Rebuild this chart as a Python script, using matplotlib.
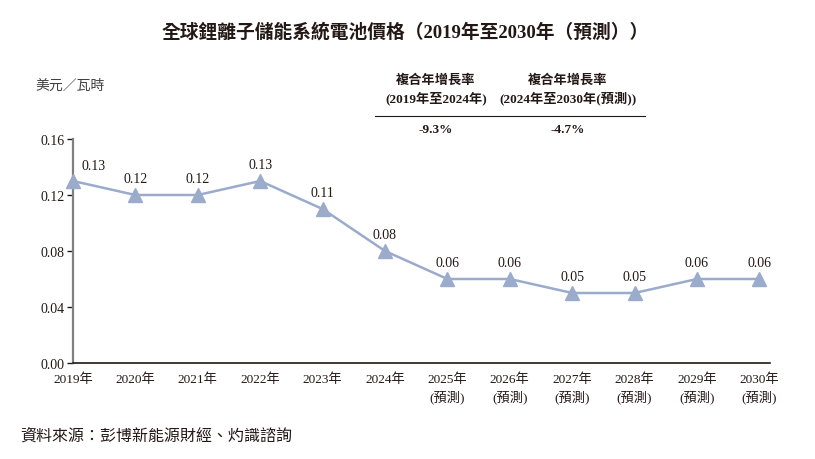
import matplotlib
matplotlib.use("Agg")
import matplotlib.pyplot as plt

plt.rcParams['font.family'] = ['Liberation Serif', 'Noto Sans CJK TC', 'DejaVu Sans']

years = ["2019年", "2020年", "2021年", "2022年", "2023年", "2024年",
         "2025年", "2026年", "2027年", "2028年", "2029年", "2030年"]
forecast = [False]*6 + [True]*6
prices = [0.13, 0.12, 0.12, 0.13, 0.11, 0.08, 0.06, 0.06, 0.05, 0.05, 0.06, 0.06]
yticks = [0.00, 0.04, 0.08, 0.12, 0.16]
cagr_headers = ["複合年增長率\n(2019年至2024年)", "複合年增長率\n(2024年至2030年(預測))"]
cagr_values = ["-9.3%", "-4.7%"]

fig = plt.figure(figsize=(8.15, 4.6), dpi=100)
ax = fig.add_axes([73/815, 1-364/460, (770-73)/815, (364-140)/460])

x = list(range(len(prices)))
line_color = "#9aabcb"
ax.plot(x, prices, color=line_color, lw=1.8, marker="^", ms=10,
        markerfacecolor=line_color, markeredgecolor=line_color, zorder=3, clip_on=False)

for i, v in enumerate(prices):
    if i == 0:
        ax.annotate(f"{v:.2f}", (i, v), xytext=(15, 11), textcoords="offset points",
                    ha="center", va="center", fontsize=10, color="#231815")
    else:
        ax.annotate(f"{v:.2f}", (i, v), xytext=(0, 12), textcoords="offset points",
                    ha="center", va="center", fontsize=10, color="#231815")

ax.set_xlim(0, 11.17)
ax.set_ylim(0, 0.16)
ax.set_yticks(yticks)
ax.set_yticklabels([f"{t:.2f}" for t in yticks], fontsize=10, color="#231815")
ax.set_xticks(x)
ax.set_xticklabels([y + ("\n(預測)" if f else "") for y, f in zip(years, forecast)],
                   fontsize=9.5, color="#231815", linespacing=1.4)
ax.tick_params(axis="x", length=0, pad=7)
ax.tick_params(axis="y", length=4, width=1, color="#231815", pad=2)

for s in ["top", "right"]:
    ax.spines[s].set_visible(False)
ax.spines["left"].set_color("#808080")
ax.spines["left"].set_linewidth(1.6)
ax.spines["bottom"].set_color("#231815")
ax.spines["bottom"].set_linewidth(1.2)
ax.spines["bottom"].set_zorder(4)

fig.text(405/815, 1-32/460, "全球鋰離子儲能系統電池價格（2019年至2030年（預測））",
         ha="center", va="center", fontsize=13.5, fontweight="bold", color="#231815")
fig.text(35/815, 1-86/460, "美元／瓦時", ha="left", va="center", fontsize=10,
         style="italic", color="#404040")

hx = [436/815, 568/815]
for hxi, h, v in zip(hx, cagr_headers, cagr_values):
    fig.text(hxi, 1-90/460, h, ha="center", va="center", fontsize=9.5,
             fontweight="bold", color="#231815", linespacing=1.4)
    fig.text(hxi, 1-130/460, v, ha="center", va="center", fontsize=9.5,
             fontweight="bold", color="#231815")
fig.add_artist(plt.Line2D([375/815, 645/815], [1-117/460, 1-117/460],
                          color="#231815", lw=0.8))

fig.text(20/815, 1-437/460, "資料來源：彭博新能源財經、灼識諮詢", ha="left", va="center",
         fontsize=11.5, style="italic", color="#231815")

fig.savefig("out.png", dpi=100)
